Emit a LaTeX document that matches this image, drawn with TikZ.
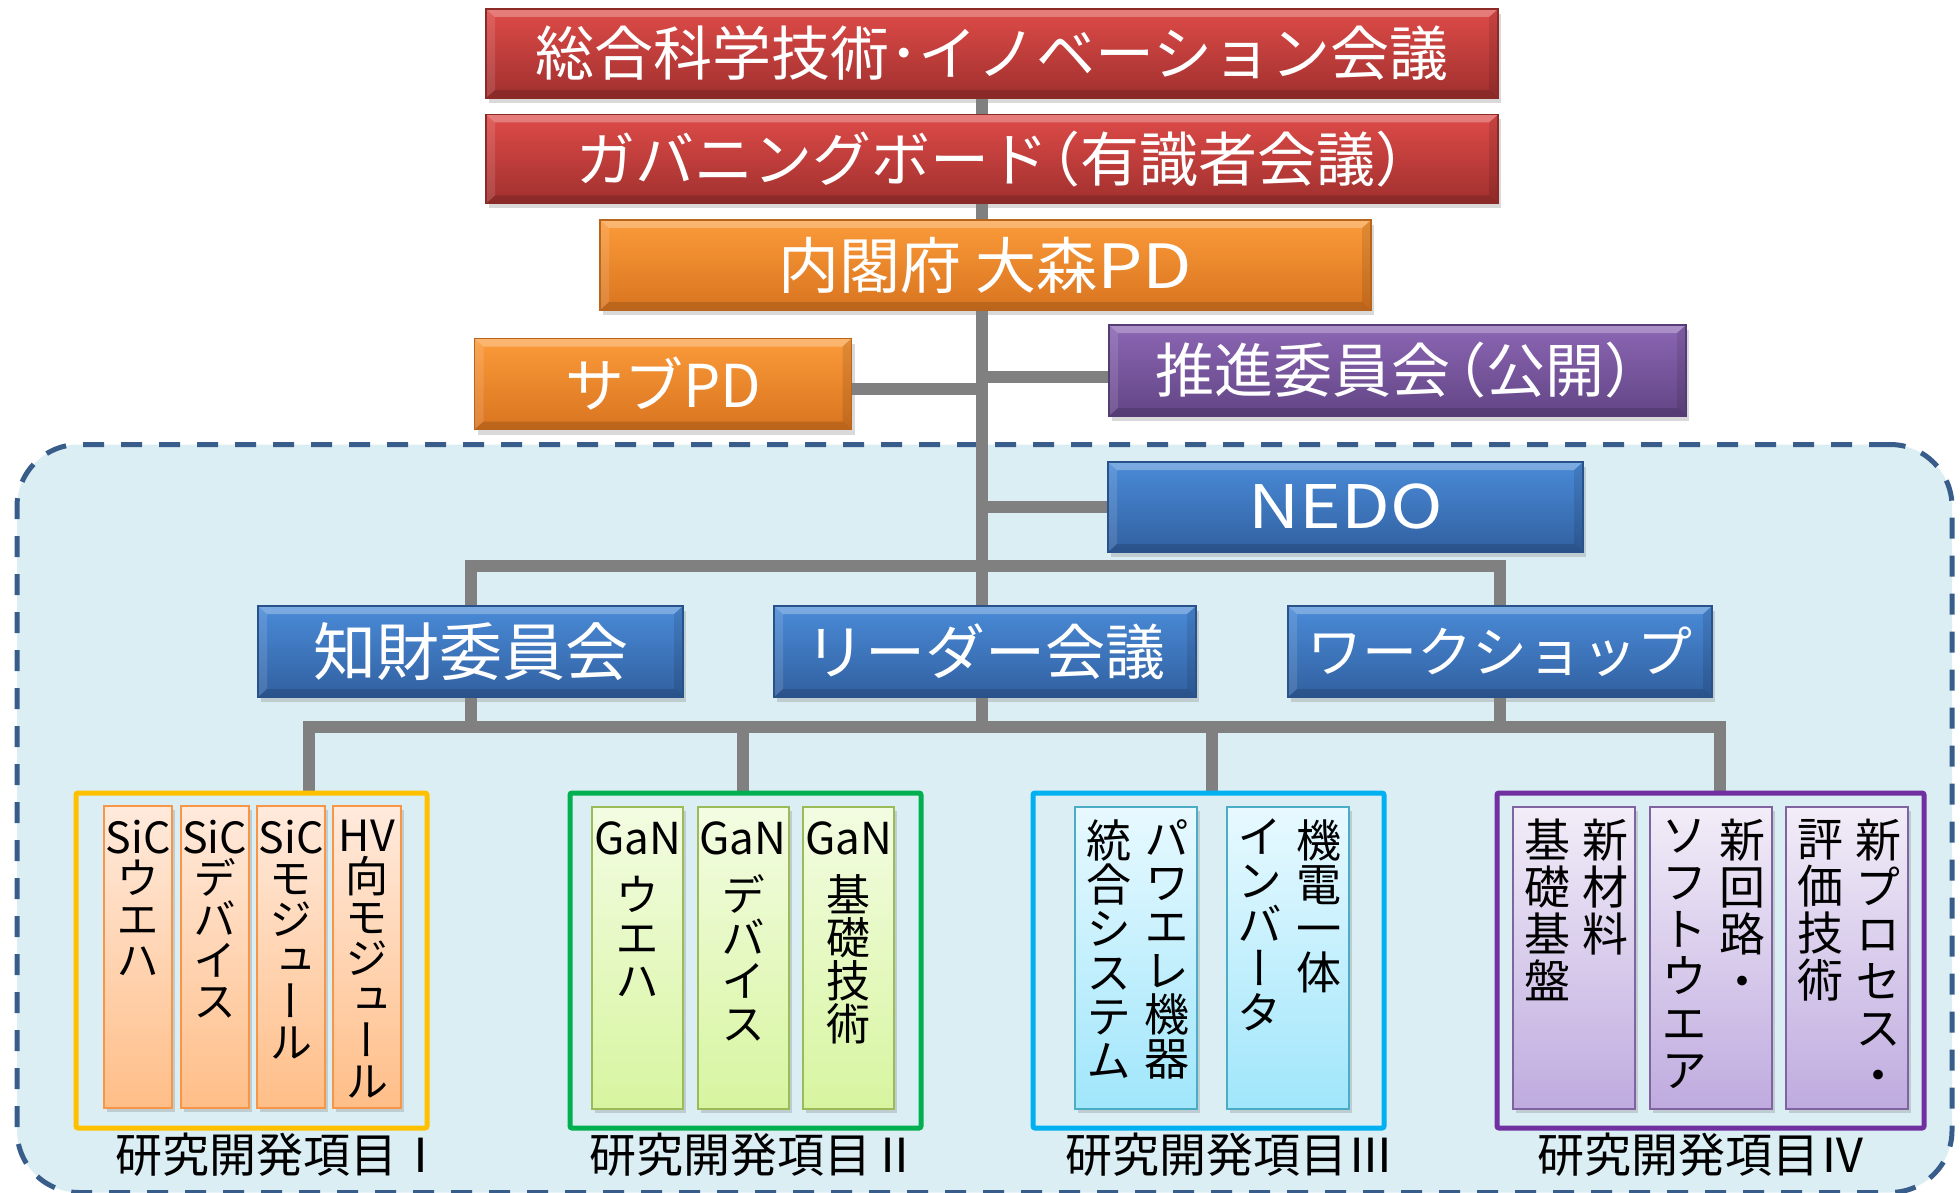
\documentclass[tikz,border=0pt]{standalone}
\usepackage{fontspec}
\setmainfont{Noto Sans CJK JP}
\newfontfamily\vjp[RawFeature=+vert]{Noto Sans CJK JP}
\usetikzlibrary{shadows}
\pgfdeclarelayer{bglayer}
\pgfsetlayers{bglayer,main}
\definecolor{cRt}{HTML}{DE4B48}\definecolor{cRb}{HTML}{A0302E}\definecolor{cRd}{HTML}{8C2A28}
\definecolor{cOt}{HTML}{FB9B3A}\definecolor{cOb}{HTML}{D9741F}\definecolor{cOd}{HTML}{B8651E}
\definecolor{cPt}{HTML}{8C66B4}\definecolor{cPb}{HTML}{624585}\definecolor{cPd}{HTML}{553C74}
\definecolor{cBt}{HTML}{4A8BD8}\definecolor{cBb}{HTML}{3160A0}\definecolor{cBd}{HTML}{2A528A}
\definecolor{conn}{HTML}{808080}
\definecolor{bgfill}{HTML}{DBEEF4}
\definecolor{bgdash}{HTML}{385D8A}
\definecolor{gYel}{HTML}{FFC000}\definecolor{gGrn}{HTML}{00B050}
\definecolor{gCyn}{HTML}{00B0F0}\definecolor{gPur}{HTML}{7030A0}
\definecolor{iOt}{HTML}{FFEADC}\definecolor{iOb}{HTML}{FFBE88}\definecolor{iOd}{HTML}{F79646}
\definecolor{iGt}{HTML}{F3FCE2}\definecolor{iGb}{HTML}{D7F5A0}\definecolor{iGd}{HTML}{9BBB59}
\definecolor{iCt}{HTML}{E8F9FF}\definecolor{iCb}{HTML}{A0E6FB}\definecolor{iCd}{HTML}{4BACC6}
\definecolor{iPt}{HTML}{F2EDF8}\definecolor{iPb}{HTML}{BFABDF}\definecolor{iPd}{HTML}{8064A2}
\newcommand\vsz[2]{\vjp\fontsize{#1}{#2}\selectfont\lineskiplimit=-30pt\relax}
\newcommand\lsz[1]{\fontsize{#1}{#1}\selectfont}
\newcommand\wlat[1]{\scalebox{1.18}[1]{#1}}
\begin{document}
\begin{tikzpicture}[x=1pt,y=-1pt,
  bevel/.style={path picture={
    \fill[white,opacity=0.28] (path picture bounding box.north west) -- (path picture bounding box.north east)
      -- ([xshift=-9pt,yshift=-8pt]path picture bounding box.north east) -- ([xshift=9pt,yshift=-8pt]path picture bounding box.north west) -- cycle;
    \fill[black,opacity=0.14] (path picture bounding box.south west) -- (path picture bounding box.south east)
      -- ([xshift=-9pt,yshift=8pt]path picture bounding box.south east) -- ([xshift=9pt,yshift=8pt]path picture bounding box.south west) -- cycle;
    \fill[white,opacity=0.12] (path picture bounding box.north west) -- ([xshift=9pt,yshift=-8pt]path picture bounding box.north west)
      -- ([xshift=9pt,yshift=8pt]path picture bounding box.south west) -- (path picture bounding box.south west) -- cycle;
    \fill[black,opacity=0.1] (path picture bounding box.north east) -- ([xshift=-9pt,yshift=-8pt]path picture bounding box.north east)
      -- ([xshift=-9pt,yshift=8pt]path picture bounding box.south east) -- (path picture bounding box.south east) -- cycle;}},
  lbox/.style={rectangle, draw=#1d, line width=1.2pt, top color=#1t, bottom color=#1b, bevel,
    text=white, font=\lsz{59}, inner sep=0pt,
    drop shadow={opacity=0.3, shadow xshift=3pt, shadow yshift=-5pt}},
  gbox/.style={rectangle, draw=#1, line width=5pt, rounded corners=2pt, inner sep=0pt},
  ibox/.style={rectangle, draw=#1d, line width=2pt, top color=#1t, bottom color=#1b, inner sep=0pt,
    minimum height=302pt,
    drop shadow={opacity=0.3, shadow xshift=3pt, shadow yshift=-4pt}},
  vt/.style={inner sep=0pt, align=center, anchor=north},
  glabel/.style={inner sep=0pt, font=\lsz{47}},
  cline/.style={draw=conn, line width=12pt, line join=miter, line cap=butt}]
\useasboundingbox (0,0) rectangle (1960,1193);

% top organisation boxes
\node[lbox=cR, minimum width=1012pt, minimum height=89pt] (sogo) at (992,53.5) {総合科学技術･イノベーション会議};
\node[lbox=cR, minimum width=1012pt, minimum height=89pt] (gov) at (992,159) {ガバニングボード\kern-.45em（有識者会議）\kern-.45em};
\node[lbox=cO, minimum width=771pt, minimum height=90pt, font=\lsz{61}] (cao) at (985.5,265) {内閣府 大森\wlat{PD}};
\node[lbox=cO, minimum width=377pt, minimum height=91pt] (subpd) at (663,384) {サブPD};
\node[lbox=cP, minimum width=577pt, minimum height=91pt] (suishin) at (1397.5,370.5) {推進委員会\kern-.4em（公開）\kern-.4em};
\node[lbox=cB, minimum width=475pt, minimum height=90pt, font=\lsz{60}] (nedo) at (1345.5,507) {\wlat{NEDO}};
\node[lbox=cB, minimum width=425pt, minimum height=91pt, font=\lsz{63}] (chizai) at (470.5,651.5) {知財委員会};
\node[lbox=cB, minimum width=422pt, minimum height=91pt, font=\lsz{60}] (leader) at (985,651.5) {リーダー会議};
\node[lbox=cB, minimum width=424pt, minimum height=91pt, font=\lsz{55}] (ws) at (1500,651.5) {ワークショップ};

% group frames
\node[gbox=gYel, minimum width=351pt, minimum height=335pt] (gI) at (251.5,960.5) {};
\node[gbox=gGrn, minimum width=351pt, minimum height=335pt] (gII) at (745.5,960.5) {};
\node[gbox=gCyn, minimum width=351pt, minimum height=335pt] (gIII) at (1208.5,960.5) {};
\node[gbox=gPur, minimum width=427pt, minimum height=335pt] (gIV) at (1710.5,960.5) {};

% group I
\node[ibox=iO, minimum width=68pt] (i11) at (138,957) {};
\node[ibox=iO, minimum width=68pt] (i12) at (214.5,957) {};
\node[ibox=iO, minimum width=68pt] (i13) at (291,957) {};
\node[ibox=iO, minimum width=68pt] (i14) at (367,957) {};
\begin{scope}[every node/.append style={font=\vsz{43}{41}}]
\node[vt] (t11) at ([yshift=-15pt]i11.north) {SiC\\ウ\\エ\\ハ};
\node[vt] (t12) at ([yshift=-15pt]i12.north) {SiC\\デ\\バ\\イ\\ス};
\node[vt] (t13) at ([yshift=-15pt]i13.north) {SiC\\モ\\ジ\\ュ\\ー\\ル};
\node[vt] (t14) at ([yshift=-15pt]i14.north) {HV\\向\\モ\\ジ\\ュ\\ー\\ル};
\end{scope}

% group II
\node[ibox=iG, minimum width=91pt] (i21) at (637.5,958) {};
\node[ibox=iG, minimum width=91pt] (i22) at (743,958) {};
\node[ibox=iG, minimum width=91pt] (i23) at (848.5,958) {};
\begin{scope}[every node/.append style={font=\vsz{44}{43}}]
\node[vt] (t21) at ([yshift=-15pt]i21.north) {GaN\\[14pt]ウ\\エ\\ハ};
\node[vt] (t22) at ([yshift=-15pt]i22.north) {GaN\\[14pt]デ\\バ\\イ\\ス};
\node[vt] (t23) at ([yshift=-15pt]i23.north) {GaN\\[14pt]基\\礎\\技\\術};
\end{scope}

% group III
\node[ibox=iC, minimum width=122pt] (i31) at (1136,958) {};
\node[ibox=iC, minimum width=122pt] (i32) at (1287.5,958) {};
\begin{scope}[every node/.append style={font=\vsz{45}{44}}]
\node[vt] (t31a) at ([xshift=31pt,yshift=-13pt]i31.north) {パ\\ワ\\エ\\レ\\機\\器};
\node[vt] (t31b) at ([xshift=-27pt,yshift=-13pt]i31.north) {統\\合\\シ\\ス\\テ\\ム};
\node[vt] (t32a) at ([xshift=31pt,yshift=-13pt]i32.north) {機\\電\\一\\体};
\node[vt] (t32b) at ([xshift=-28pt,yshift=-13pt]i32.north) {イ\\ン\\バ\\ー\\タ};
\end{scope}

% group IV
\node[ibox=iP, minimum width=122pt] (i41) at (1574,958) {};
\node[ibox=iP, minimum width=122pt] (i42) at (1711,958) {};
\node[ibox=iP, minimum width=122pt] (i43) at (1847,958) {};
\begin{scope}[every node/.append style={font=\vsz{46}{47}}]
\node[vt] (t41a) at ([xshift=31pt,yshift=-13pt]i41.north) {新\\材\\料};
\node[vt] (t41b) at ([xshift=-27pt,yshift=-13pt]i41.north) {基\\礎\\基\\盤};
\node[vt] (t42a) at ([xshift=31pt,yshift=-13pt]i42.north) {新\\回\\路\\・};
\node[vt] (t42b) at ([xshift=-27pt,yshift=-13pt]i42.north) {ソ\\フ\\ト\\ウ\\エ\\ア};
\node[vt] (t43a) at ([xshift=31pt,yshift=-13pt]i43.north) {新\\プ\\ロ\\セ\\ス\\・};
\node[vt] (t43b) at ([xshift=-27pt,yshift=-13pt]i43.north) {評\\価\\技\\術};
\end{scope}

% group labels
\node[glabel] (lI) at (280,1155) {研究開発項目Ⅰ};
\node[glabel] (lII) at (754,1155) {研究開発項目Ⅱ};
\node[glabel] (lIII) at (1230,1155) {研究開発項目Ⅲ};
\node[glabel] (lIV) at (1702,1155) {研究開発項目Ⅳ};

% background and connectors
\coordinate (tx) at (982,0);
\coordinate (barA) at (0,566);
\coordinate (barB) at (0,727);
\coordinate (xI) at (309,0);
\coordinate (xII) at (743,0);
\coordinate (xIII) at (1212,0);
\coordinate (xIV) at (1720,0);
\begin{pgfonlayer}{bglayer}
\node[draw=bgdash, fill=bgfill, line width=5pt, dash pattern=on 21pt off 17pt,
  rounded corners=62pt, minimum width=1935pt, minimum height=748pt, inner sep=0pt] (bg) at (984.5,818.5) {};
\draw[cline] (sogo.south -| tx) -- (tx |- barB);
\draw[cline] ([yshift=-5pt]subpd.east) -- ([yshift=-5pt]subpd.east -| tx);
\draw[cline] ([yshift=-6pt]suishin.west) -- ([yshift=-6pt]suishin.west -| tx);
\draw[cline] (nedo.west) -- (nedo.west -| tx);
\draw[cline] (chizai.north) -- (chizai.north |- barA) -- (ws.north |- barA) -- (ws.north);
\draw[cline] (chizai.south) -- (chizai.south |- barB);
\draw[cline] (ws.south) -- (ws.south |- barB);
\draw[cline] (gI.north -| xI) -- (xI |- barB) -- (xIV |- barB) -- (gIV.north -| xIV);
\draw[cline] (gII.north -| xII) -- (xII |- barB);
\draw[cline] (gIII.north -| xIII) -- (xIII |- barB);
\end{pgfonlayer}
\end{tikzpicture}
\end{document}
